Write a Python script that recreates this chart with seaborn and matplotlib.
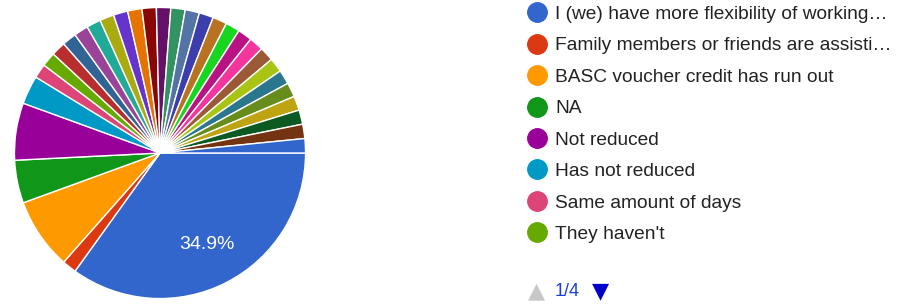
import matplotlib
matplotlib.use('Agg')
import matplotlib.pyplot as plt
from matplotlib.lines import Line2D
import seaborn as sns

# responses per answer, in slice order (63 answers in total)
counts = [22, 1, 5, 3, 4, 2, 1, 1,
          1, 1, 1, 1, 1, 1, 1, 1,
          1, 1, 1, 1, 1, 1, 1, 1,
          1, 1, 1, 1, 1, 1, 1, 1]
# only the first legend page (1/4) is visible
labels = ["I (we) have more flexibility of working…",
          "Family members or friends are assisti…",
          "BASC voucher credit has run out",
          "NA",
          "Not reduced",
          "Has not reduced",
          "Same amount of days",
          "They haven't"]
page_text = "1/4"

google_colors = ['#3366cc', '#dc3912', '#ff9900', '#109618', '#990099', '#0099c6',
                 '#dd4477', '#66aa00', '#b82e2e', '#316395', '#994499', '#22aa99',
                 '#aaaa11', '#6633cc', '#e67300', '#8b0707', '#651067', '#329262',
                 '#5574a6', '#3b3eac', '#b77322', '#16d620', '#b91383', '#f4359e',
                 '#9c5935', '#a9c413', '#2a778d', '#668d1c', '#bea413', '#0c5922',
                 '#743411']

sns.set_theme(style='white')
plt.rcParams['font.family'] = ['Liberation Sans', 'DejaVu Sans']

palette = sns.color_palette(google_colors, n_colors=len(counts))

W, H = 907, 304
fig = plt.figure(figsize=(W / 100, H / 100), dpi=100)
cx, cy, r = 160, 153, 147
ax = fig.add_axes([(cx - r) / W, (H - cy - r) / H, 2 * r / W, 2 * r / H])

wedges, texts, autotexts = ax.pie(
    counts, colors=palette, startangle=0, counterclock=False,
    autopct=lambda p: f'{p:.1f}%' if p > 20 else '', pctdistance=0.71,
    wedgeprops=dict(edgecolor='white', linewidth=1),
    textprops=dict(color='white', fontsize=14))
ax.set_xlim(-1.01, 1.01)
ax.set_ylim(-1.01, 1.01)
ax.set_aspect('equal')

handles = [Line2D([0], [0], marker='o', linestyle='', markersize=14,
                  markerfacecolor=palette[i], markeredgecolor=palette[i])
           for i in range(len(labels))]
leg = fig.legend(handles, labels, loc='upper left',
                 bbox_to_anchor=(520 / W, 1 - (-2) / H),
                 frameon=False, fontsize=13.8, labelspacing=0.73,
                 handlelength=1.0, handletextpad=0.42, borderaxespad=0)
for t in leg.get_texts():
    t.set_color('#222222')

# pager
fig.text(537 / W, 1 - 291 / H, '▲', color='#c8c8c8', fontsize=16,
         ha='center', va='center', family='DejaVu Sans')
fig.text(555 / W, 1 - 292 / H, page_text, color='#1a3fd6', fontsize=13,
         ha='left', va='center')
fig.text(601 / W, 1 - 291 / H, '▼', color='#0000cc', fontsize=16,
         ha='center', va='center', family='DejaVu Sans')

fig.savefig('out.png', dpi=100)
